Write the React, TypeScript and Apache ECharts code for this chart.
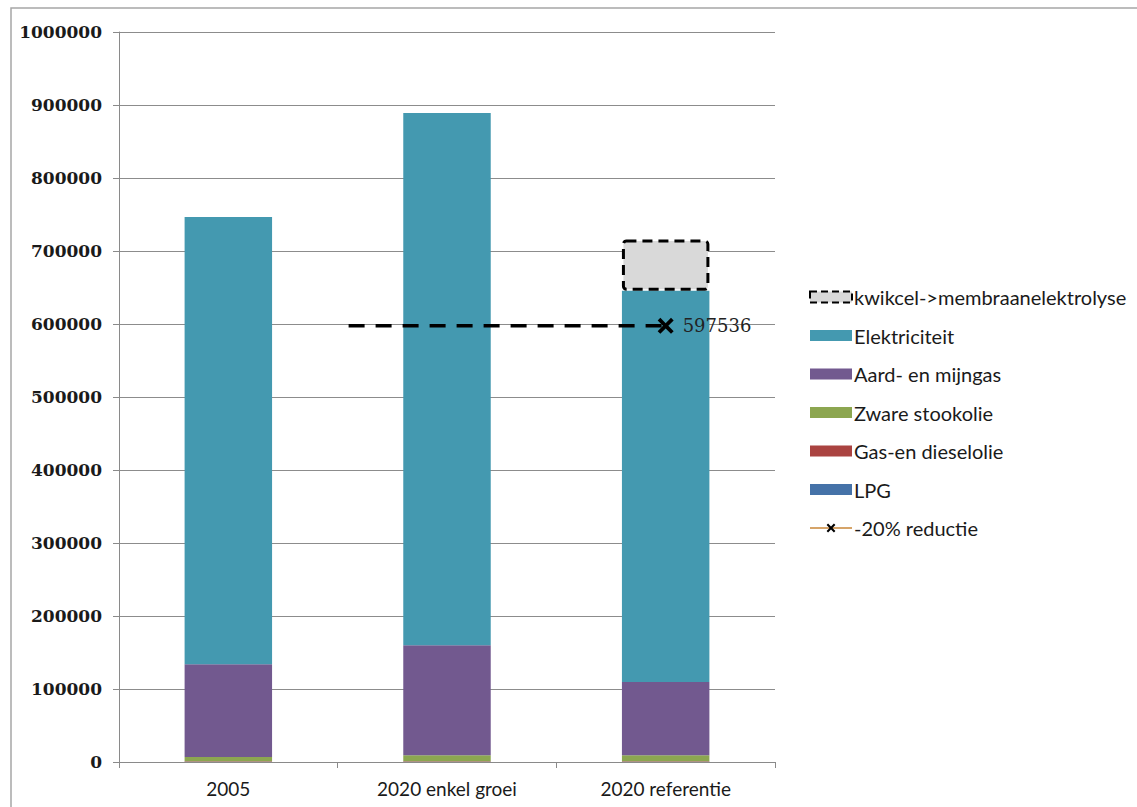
import React, { useEffect, useRef } from "react";
import * as echarts from "echarts";

// Categories on the x axis
const categories = ["2005", "2020 enkel groei", "2020 referentie"];

// Stacked energy components (bottom to top)
const lpg = [200, 200, 200];
const gasEnDieselolie = [800, 900, 900];
const zwareStookolie = [6000, 8000, 8000];
const aardEnMijngas = [127000, 151000, 100500];
const elektriciteit = [612600, 729000, 536000];
const kwikcel = [null, null, 70000];

// -20% reduction target, drawn on a hidden value axis that spans the three categories
const reductieWaarde = 597536;
const reductieX = [1.05, 2.5];

const yTicks = { min: 0, max: 1000000, interval: 100000 };

const crossPath =
  "path://M2,0 L6,4 L10,0 L12,2 L8,6 L12,10 L10,12 L6,8 L2,12 L0,10 L4,6 L0,2 Z";

const colors = {
  kwikcel: "#d9d9d9",
  elektriciteit: "#4499b0",
  aard: "#72598f",
  zware: "#8ca650",
  gas: "#aa4341",
  lpg: "#4572a8",
};

export default function App() {
  const ref = useRef<HTMLDivElement>(null);

  useEffect(() => {
    if (!ref.current) return;
    const chart = echarts.init(ref.current, undefined, { renderer: "svg" });

    const barBase = {
      type: "bar" as const,
      stack: "total",
      barWidth: "40%",
      xAxisIndex: 0,
      yAxisIndex: 0,
      z: 2,
    };

    chart.setOption({
      animation: false,
      backgroundColor: "#ffffff",
      graphic: [
        {
          type: "rect",
          shape: { x: 11, y: 8, width: 1140, height: 820 },
          style: { fill: "none", stroke: "#a6a6a6", lineWidth: 1.5 },
          silent: true,
          z: -1,
        },
      ],
      grid: { left: 119, right: 362, top: 32, bottom: 45 },
      legend: {
        orient: "vertical",
        left: 804,
        top: 282,
        itemWidth: 42,
        itemHeight: 11,
        itemGap: 18.5,
        selectedMode: false,
        textStyle: {
          fontFamily: "Lato",
          fontSize: 20,
          color: "#1a1a1a",
          padding: [0, 0, 0, -3],
        },
        data: [
          {
            name: "kwikcel->membraanelektrolyse",
            icon: "rect",
            itemStyle: { borderType: [7, 4], borderWidth: 2 },
          },
          { name: "Elektriciteit", icon: "rect" },
          { name: "Aard- en mijngas", icon: "rect" },
          { name: "Zware stookolie", icon: "rect" },
          { name: "Gas-en dieselolie", icon: "rect" },
          { name: "LPG", icon: "rect" },
          {
            name: "-20% reductie",
            lineStyle: { color: "#d6a469", type: "solid", width: 2 },
            itemStyle: { color: "#000000" },
          },
        ],
      },
      xAxis: [
        {
          type: "category",
          data: categories,
          axisLine: { lineStyle: { color: "#8a8a8a", width: 1 } },
          axisTick: { show: true, length: 6, lineStyle: { color: "#8a8a8a" } },
          axisLabel: {
            fontFamily: "Lato",
            fontSize: 19,
            color: "#1a1a1a",
            margin: 17,
          },
        },
        {
          type: "value",
          min: 0,
          max: 3,
          show: false,
        },
      ],
      yAxis: {
        type: "value",
        min: yTicks.min,
        max: yTicks.max,
        interval: yTicks.interval,
        axisLine: { show: true, lineStyle: { color: "#8a8a8a", width: 1 } },
        axisTick: { show: true, length: 6, lineStyle: { color: "#8a8a8a" } },
        splitLine: { lineStyle: { color: "#8c8c8c", width: 1 } },
        axisLabel: {
          fontFamily: "DejaVu Serif",
          fontWeight: "bold",
          fontSize: 17,
          color: "#1a1a1a",
          margin: 17,
          formatter: (v: number) => String(v),
        },
      },
      series: [
        { ...barBase, name: "LPG", data: lpg, itemStyle: { color: colors.lpg } },
        {
          ...barBase,
          name: "Gas-en dieselolie",
          data: gasEnDieselolie,
          itemStyle: { color: colors.gas },
        },
        {
          ...barBase,
          name: "Zware stookolie",
          data: zwareStookolie,
          itemStyle: { color: colors.zware },
        },
        {
          ...barBase,
          name: "Aard- en mijngas",
          data: aardEnMijngas,
          itemStyle: { color: colors.aard },
        },
        {
          ...barBase,
          name: "Elektriciteit",
          data: elektriciteit,
          itemStyle: { color: colors.elektriciteit },
        },
        {
          ...barBase,
          name: "kwikcel->membraanelektrolyse",
          data: kwikcel,
          z: 3,
          itemStyle: {
            color: colors.kwikcel,
            borderColor: "#000000",
            borderWidth: 3,
            borderType: [10, 6],
            borderRadius: 3,
          },
        },
        {
          type: "line",
          name: "-20% reductie",
          xAxisIndex: 1,
          yAxisIndex: 0,
          z: 5,
          symbol: crossPath,
          symbolSize: 16,
          itemStyle: { color: "#000000" },
          lineStyle: { color: "#000000", width: 3.5, type: [16, 11] },
          data: [
            { value: [reductieX[0], reductieWaarde], symbol: "none" },
            {
              value: [reductieX[1], reductieWaarde],
              label: {
                show: true,
                position: "right",
                distance: 9,
                formatter: () => String(reductieWaarde),
                fontFamily: "DejaVu Serif",
                fontSize: 18,
                color: "#222222",
              },
            },
          ],
        },
      ],
    });

    return () => chart.dispose();
  }, []);

  return (
    <div
      ref={ref}
      style={{ position: "fixed", left: 0, top: 0, width: 1137, height: 807 }}
    />
  );
}
